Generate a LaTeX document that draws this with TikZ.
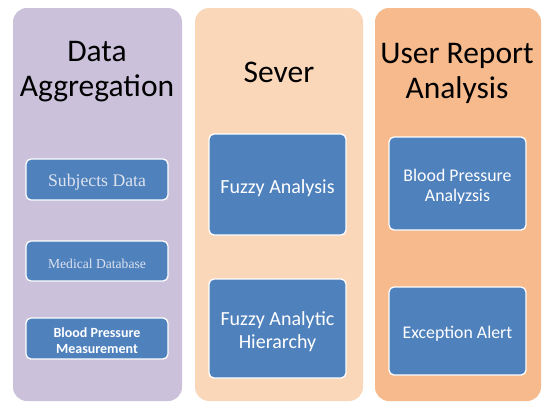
\documentclass[tikz,border=0pt]{standalone}
\usepackage{fontspec}
\setmainfont{Carlito}
\newfontfamily\serifb{Liberation Serif}
\begin{document}
\begin{tikzpicture}[x=1pt,y=-1pt,
  column/.style={rounded corners=14pt, draw=none},
  title/.style={align=center, font=\fontsize{31.5}{35}\selectfont, text=black},
  box/.style={draw=white, line width=1.3pt, fill=boxblue, rounded corners=5pt, inner sep=0pt},
  boxtext/.style={text=white, align=center, inner sep=0pt},
]
\definecolor{lav}{HTML}{CBC1DB}
\definecolor{peach}{HTML}{FBD7BA}
\definecolor{orng}{HTML}{F7BA8D}
\definecolor{boxblue}{HTML}{4F81BD}
\definecolor{paletext}{HTML}{DDE3EE}
\useasboundingbox (0,0) rectangle (544,402);
\fill[white] (0,0) rectangle (544,402);
% columns
\fill[column, lav] (13,8) rectangle (182,401);
\fill[column, peach] (195,8) rectangle (363,401);
\fill[column, orng] (375,8) rectangle (541,401);
% titles
\node[title] (t1) at (97,72) {Data\\Aggregation};
\node[title] (t2) at (279,72) {Sever};
\node[title] (t3) at (457,73) {User Report\\Analysis};
% column 1 boxes
\node[box, minimum width=142pt, minimum height=41pt] (b1) at (97,179.5) {};
\node[boxtext, text=paletext, font=\serifb\fontsize{17.7}{20}\selectfont] (b1t) at ([yshift=-3pt]b1.center) {Subjects Data};
\node[box, minimum width=142pt, minimum height=40pt] (b2) at (97,261) {};
\node[boxtext, text=paletext, font=\serifb\fontsize{13.6}{16}\selectfont] (b2t) at ([yshift=-3pt]b2.center) {Medical Database};
\node[box, minimum width=142pt, minimum height=41pt] (b3) at (97,338.5) {};
\node[boxtext, font=\bfseries\fontsize{14}{16}\selectfont] (b3t) at ([yshift=-2pt]b3.center) {Blood Pressure\\Measurement};
% column 2 boxes
\node[box, minimum width=137pt, minimum height=101pt] (c1) at (277.5,184.5) {};
\node[boxtext, font=\fontsize{20}{23}\selectfont] (c1t) at ([yshift=-4pt]c1.center) {Fuzzy Analysis};
\node[box, minimum width=137pt, minimum height=99pt] (c2) at (277.5,328.5) {};
\node[boxtext, font=\fontsize{20}{23}\selectfont] (c2t) at ([yshift=-3pt]c2.center) {Fuzzy Analytic\\Hierarchy};
% column 3 boxes
\node[box, minimum width=137pt, minimum height=93pt] (d1) at (457.5,183.5) {};
\node[boxtext, font=\fontsize{17.8}{20}\selectfont] (d1t) at ([yshift=-3pt]d1.center) {Blood Pressure\\Analyzsis};
\node[box, minimum width=137pt, minimum height=88pt] (d2) at (457.5,331) {};
\node[boxtext, font=\fontsize{17.8}{20}\selectfont] (d2t) at ([yshift=-3pt]d2.center) {Exception Alert};
\end{tikzpicture}
\end{document}
